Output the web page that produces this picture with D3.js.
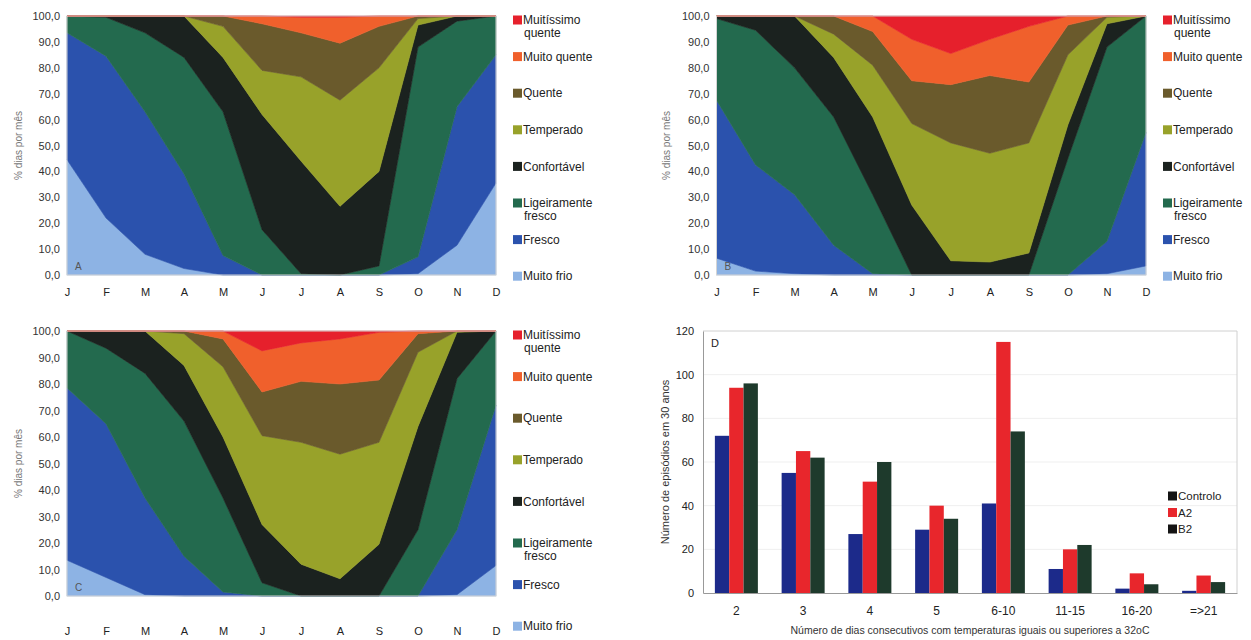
<!DOCTYPE html>
<html><head><meta charset="utf-8">
<script src="https://cdn.jsdelivr.net/npm/d3@7"></script>
<style>
body{margin:0;background:#fff;}
svg{display:block;font-family:"Liberation Sans",Arial,sans-serif;}
</style>
</head><body>
<svg id="c" width="1251" height="640"></svg>
<script>
// ---------- Data ----------
const months = ["J","F","M","A","M","J","J","A","S","O","N","D"];
const categories = ["Muito frio","Fresco","Ligeiramente fresco","Confortável","Temperado","Quente","Muito quente","Muitíssimo quente"];
const legendLabels = ["Muitíssimo\nquente","Muito quente","Quente","Temperado","Confortável","Ligeiramente\nfresco","Fresco","Muito frio"];
const areaColors = ["#8db3e4","#2b52ad","#236a4e","#1b221f","#98a22a","#6a5a2c","#f0602c","#e6202c"];

// Panel A
const A_muitoFrio   = [44.5,22,8,2.5,0,0,0,0,0,0.5,11.5,35.5];
const A_fresco      = [49,62.5,55,36.5,7.5,0,0,0,0,6.5,53.5,49.5];
const A_ligFresco   = [6.5,15,30.5,45,55.5,17.5,0.5,0,3.5,81,33,15];
const A_confortavel = [0,0.5,6.5,16,21,44.5,43.5,26.5,36.5,8.5,2,0];
const A_temperado   = [0,0,0,0,12,17,32.5,41,40,2.5,0,0];
const A_quente      = [0,0,0,0,4,18,17,22,16,1,0,0];
const A_muitoQuente = [0,0,0,0,0,3,6,10,4,0,0,0];
const A_muitissimo  = [0,0,0,0,0,0,0.5,0.5,0,0,0,0];

// Panel B
const B_muitoFrio   = [6.5,1.5,0.5,0,0,0,0,0,0,0,0.5,3.5];
const B_fresco      = [61,41,30.5,11.5,0.5,0,0,0,0,0,12.5,51.5];
const B_ligFresco   = [31.5,52,49,49.5,30.5,0,0,0,0,45,75,45];
const B_confortavel = [1,5.5,20,23,30,27,5.5,5,8.5,13,9,0];
const B_temperado   = [0,0,0,9,20,31.5,45.5,42,42.5,27,2.5,0];
const B_quente      = [0,0,0,7,13,16.5,22.5,30,23.5,11.5,0.5,0];
const B_muitoQuente = [0,0,0,0,6,16,12,14,21.5,3.5,0,0];
const B_muitissimo  = [0,0,0,0,0,9,14.5,9,4,0,0,0];

// Panel C
const C_muitoFrio   = [13.5,7,0.5,0,0,0,0,0,0,0,0.5,11.5];
const C_fresco      = [65,58,36.5,15,1.5,0,0,0,0,0,24.5,60.5];
const C_ligFresco   = [21.5,28.5,47,51,35.5,5,0,0,0,25,57,28];
const C_confortavel = [0,6.5,16,21,23,22,12,6.5,19.5,39,17.5,0];
const C_temperado   = [0,0,0,12,26.5,33.5,46,47,38.5,28,0.5,0];
const C_quente      = [0,0,0,1,10.5,16.5,23,26.5,23.5,7,0,0];
const C_muitoQuente = [0,0,0,0,3,15.5,14.5,17,18,1,0,0];
const C_muitissimo  = [0,0,0,0,0,7.5,4.5,3,0.5,0,0,0];

// Panel D
const dCategories = ["2","3","4","5","6-10","11-15","16-20","=>21"];
const dSeries = ["Controlo","A2","B2"];
const dControlo = [72,55,27,29,41,11,2,1];
const dA2 = [94,65,51,40,115,20,9,8];
const dB2 = [96,62,60,34,74,22,4,5];
const dTicks = [0,20,40,60,80,100,120];
const dBarColors = ["#1c2a8a","#e8262c","#1e3a2c"];
const dLegendColors = ["#141414","#e8262c","#141414"];

// ---------- Drawing ----------
const svg = d3.select("#c");

function drawArea(p){
  const data = p.data;
  const idx = d3.range(12);
  const rows = idx.map(i => { const r = {i}; categories.forEach((c,k)=> r[c] = data[k][i]); return r; });
  const stack = d3.stack().keys(categories)(rows);
  const x = d3.scalePoint().domain(idx).range([p.x0,p.x1]);
  const y = d3.scaleLinear().domain([0,100]).range([p.y1,p.y0]);
  const area = d3.area().x(d=>x(d.data.i)).y0(d=>y(Math.min(100,d[0]))).y1(d=>y(Math.min(100,d[1])));
  const g = svg.append("g");
  g.selectAll("path.layer").data(stack).join("path")
    .attr("class","layer")
    .attr("fill",(d,k)=>areaColors[k])
    .attr("stroke",(d,k)=>areaColors[k]).attr("stroke-width",0.6)
    .attr("d",area);
  g.append("rect").attr("x",p.x0).attr("y",p.y0).attr("width",p.x1-p.x0).attr("height",p.y1-p.y0)
    .attr("fill","none").attr("stroke","#d4d4d4").attr("stroke-width",1);

  const ya = g.append("g").attr("transform",`translate(${p.x0},0)`)
    .call(d3.axisLeft(y).tickValues(d3.range(0,101,10)).tickSize(0).tickPadding(7)
      .tickFormat(d=>d3.format(".1f")(d).replace(".",",")));
  ya.select(".domain").remove();
  ya.selectAll("text").attr("font-size",11).attr("fill","#333").attr("font-family","Liberation Sans, Arial, sans-serif");

  const xa = g.append("g").attr("transform",`translate(0,${p.y1})`)
    .call(d3.axisBottom(x).tickSize(0).tickPadding(p.xPad).tickFormat(i=>months[i]));
  xa.select(".domain").remove();
  xa.selectAll("text").attr("font-size",11).attr("fill","#222").attr("font-family","Liberation Sans, Arial, sans-serif");

  g.append("text").attr("transform",`translate(${p.yTitleX},${(p.y0+p.y1)/2}) rotate(-90)`)
    .attr("text-anchor","middle").attr("dy","0.35em").attr("font-size",10).attr("fill","#777")
    .text("% dias por mês");

  g.append("text").attr("x",p.x0+8).attr("y",p.y1-5).attr("font-size",10).attr("fill","#555").text(p.letter);

  const order = d3.range(8).reverse();
  const lg = g.append("g");
  order.forEach((k,j)=>{
    const cy = p.legY + j*p.legStep;
    lg.append("rect").attr("x",p.legX).attr("y",cy-4.5).attr("width",9).attr("height",9).attr("fill",areaColors[k]);
    const lines = legendLabels[j].split("\n");
    lines.forEach((t,li)=>{
      lg.append("text").attr("x",p.legX+(li===0?10:11)).attr("y",cy+li*13).attr("dy","0.35em")
        .attr("font-size",12).attr("fill","#222").text(t);
    });
  });
}

drawArea({data:[A_muitoFrio,A_fresco,A_ligFresco,A_confortavel,A_temperado,A_quente,A_muitoQuente,A_muitissimo],
  x0:67,x1:496,y0:16,y1:275,legX:513,legY:20,legStep:36.6,letter:"A",yTitleX:18,xPad:13});
drawArea({data:[B_muitoFrio,B_fresco,B_ligFresco,B_confortavel,B_temperado,B_quente,B_muitoQuente,B_muitissimo],
  x0:716.5,x1:1146,y0:16,y1:275,legX:1163,legY:20,legStep:36.6,letter:"B",yTitleX:666,xPad:13});
drawArea({data:[C_muitoFrio,C_fresco,C_ligFresco,C_confortavel,C_temperado,C_quente,C_muitoQuente,C_muitissimo],
  x0:67,x1:496,y0:331,y1:596,legX:513,legY:335,legStep:41.6,letter:"C",yTitleX:18,xPad:31});

// Panel D
(function(){
  const x0=703,x1=1237,y0=331,y1=593;
  const x = d3.scaleBand().domain(dCategories).range([x0,x1]).padding(0);
  const xs = d3.scaleBand().domain(dSeries).range([0,43]);
  const y = d3.scaleLinear().domain([0,120]).range([y1,y0]);
  const g = svg.append("g");
  g.selectAll("line.grid").data(dTicks.filter(t=>t>0 && t<120)).join("line")
    .attr("x1",x0).attr("x2",x1).attr("y1",d=>y(d)).attr("y2",d=>y(d))
    .attr("stroke","#efefef").attr("stroke-width",1);
  g.append("path").attr("d",`M${x0},${y0}H${x1}V${y1}`).attr("fill","none").attr("stroke","#d0d0d0");
  const rows = dCategories.map((c,i)=>({c, v:[dControlo[i],dA2[i],dB2[i]]}));
  const grp = g.selectAll("g.grp").data(rows).join("g")
    .attr("transform",d=>`translate(${x(d.c)+x.bandwidth()/2-21.5},0)`);
  grp.selectAll("rect").data(d=>d.v.map((v,k)=>({k,v}))).join("rect")
    .attr("x",d=>xs(dSeries[d.k])).attr("width",xs.bandwidth())
    .attr("y",d=>y(d.v)).attr("height",d=>y1-y(d.v))
    .attr("fill",d=>dBarColors[d.k]);
  const ya = g.append("g").attr("transform",`translate(${x0},0)`)
    .call(d3.axisLeft(y).tickValues(dTicks).tickSize(0).tickPadding(9));
  ya.select(".domain").attr("stroke","#999");
  ya.selectAll("text").attr("font-size",11).attr("fill","#222").attr("font-family","Liberation Sans, Arial, sans-serif");
  const xa = g.append("g").attr("transform",`translate(0,${y1})`)
    .call(d3.axisBottom(x).tickSize(0).tickPadding(13));
  xa.select(".domain").attr("stroke","#999");
  xa.selectAll("text").attr("font-size",12).attr("fill","#222").attr("font-family","Liberation Sans, Arial, sans-serif");

  g.append("text").attr("x",x0+8).attr("y",y0+16).attr("font-size",11).attr("fill","#222").text("D");
  g.append("text").attr("transform",`translate(665,${(y0+y1)/2}) rotate(-90)`)
    .attr("text-anchor","middle").attr("dy","0.35em").attr("font-size",11).attr("fill","#333")
    .text("Número de episódios em 30 anos");
  g.append("text").attr("x",970).attr("y",634).attr("text-anchor","middle")
    .attr("font-size",10.5).attr("fill","#333")
    .text("Número de dias consecutivos com temperaturas iguais ou superiores a 32oC");
  dSeries.forEach((s,k)=>{
    const cy = 496 + k*16.5;
    g.append("rect").attr("x",1168).attr("y",cy-4.5).attr("width",9).attr("height",9).attr("fill",dLegendColors[k]);
    g.append("text").attr("x",1178).attr("y",cy).attr("dy","0.35em").attr("font-size",11.5).attr("fill","#222").text(s);
  });
})();
</script>
</body></html>
